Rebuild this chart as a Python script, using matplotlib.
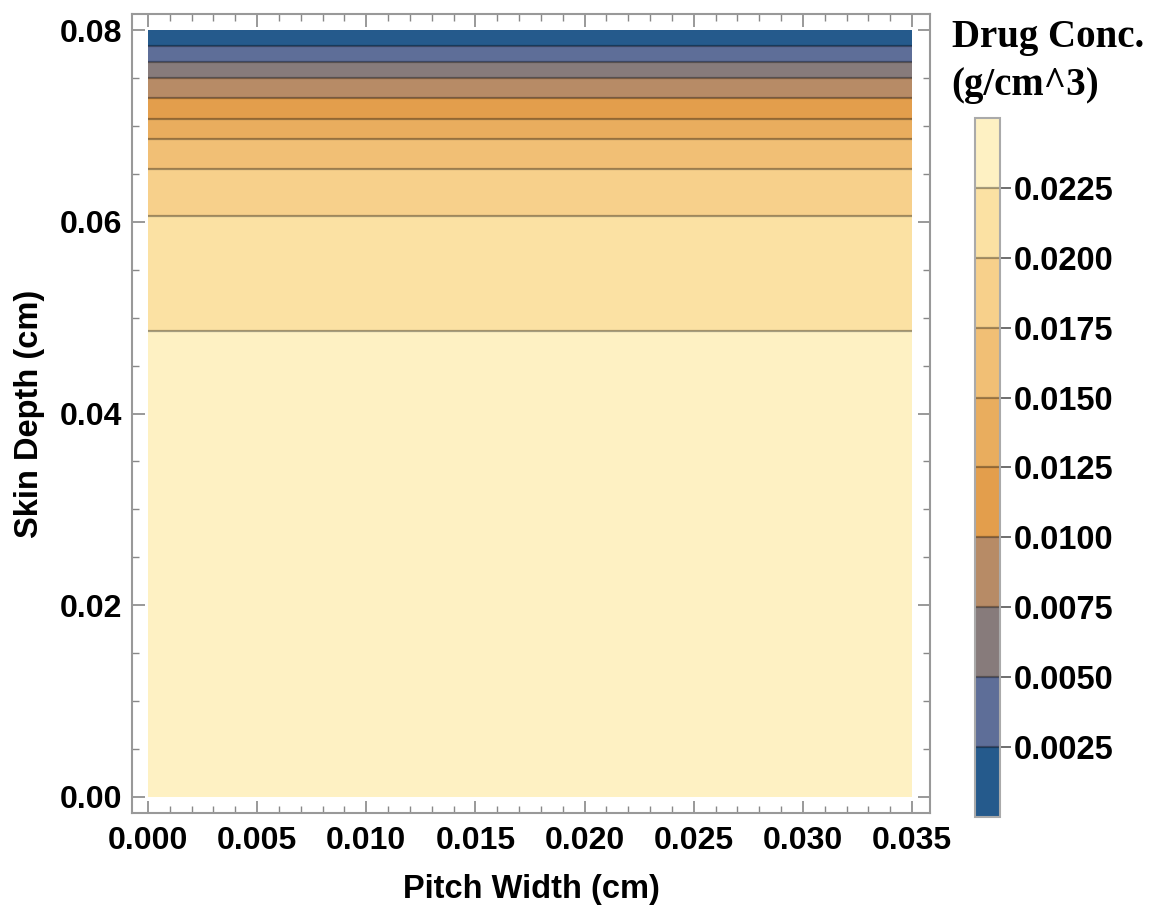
import numpy as np
import matplotlib.pyplot as plt
from matplotlib.colors import ListedColormap, BoundaryNorm
from matplotlib.ticker import MultipleLocator, FormatStrFormatter

# depth profile of drug concentration (same at every pitch position)
pitch_width = [0.0, 0.035]
skin_depth = [0.0, 0.0486, 0.0606, 0.0655, 0.0686, 0.0707, 0.0729, 0.0750, 0.0767, 0.0783, 0.0800]
drug_conc = [0.0249, 0.0225, 0.0200, 0.0175, 0.0150, 0.0125, 0.0100, 0.0075, 0.0050, 0.0025, 0.0]

levels = [0.0, 0.0025, 0.005, 0.0075, 0.01, 0.0125, 0.015, 0.0175, 0.02, 0.0225, 0.0249]
cbar_ticks = [0.0025, 0.005, 0.0075, 0.01, 0.0125, 0.015, 0.0175, 0.02, 0.0225]
band_colors = ['#255a8c', '#5e6e98', '#877b7b', '#b78b66', '#e39e4c',
               '#e9ad5e', '#f1bf75', '#f7d08b', '#fbe1a3', '#fef1c3']

plt.rcParams['font.family'] = ['Liberation Sans', 'DejaVu Sans']
plt.rcParams['font.weight'] = 'bold'

fig = plt.figure(figsize=(11.52, 9.09), dpi=100)
ax = fig.add_axes([0.1146, 0.1056, 0.6927, 0.879])
cax = fig.add_axes([0.8464, 0.1012, 0.0217, 0.769])

X, Y = np.meshgrid(pitch_width, skin_depth)
Z = np.tile(np.array(drug_conc)[:, None], (1, len(pitch_width)))

cmap = ListedColormap(band_colors)
norm = BoundaryNorm(levels, cmap.N)
cs = ax.contourf(X, Y, Z, levels=levels, cmap=cmap, norm=norm)
cl = ax.contour(X, Y, Z, levels=levels[1:-1], colors='#000000', alpha=0.35, linewidths=1.6)

ax.set_xlim(-0.00073, 0.03582)
ax.set_ylim(-0.00167, 0.08167)
ax.xaxis.set_major_locator(MultipleLocator(0.005))
ax.xaxis.set_minor_locator(MultipleLocator(0.001))
ax.yaxis.set_major_locator(MultipleLocator(0.02))
ax.yaxis.set_minor_locator(MultipleLocator(0.005))
ax.xaxis.set_major_formatter(FormatStrFormatter('%.3f'))
ax.yaxis.set_major_formatter(FormatStrFormatter('%.2f'))
ax.tick_params(which='both', direction='in', top=True, right=True, color='#888888',
               labelsize=23, pad=7)
ax.tick_params(axis='x', which='major', pad=9)
ax.tick_params(which='major', length=9, width=1.2)
ax.tick_params(which='minor', length=5, width=1.0)
for s in ax.spines.values():
    s.set_color('#999999')
    s.set_linewidth(1.5)

ax.set_xlabel('Pitch Width (cm)', fontsize=23.5, fontweight='bold', labelpad=13)
ax.set_ylabel('Skin Depth (cm)', fontsize=23.5, fontweight='bold', labelpad=11)

cbar = fig.colorbar(cs, cax=cax, ticks=cbar_ticks)
cbar.add_lines(cl)
cbar.ax.minorticks_off()
cbar.ax.yaxis.set_major_formatter(FormatStrFormatter('%.4f'))
cbar.ax.tick_params(direction='out', length=8, width=1.2, color='#555555', labelsize=23.5, pad=2)
cbar.outline.set_edgecolor('#aaaaaa')
cbar.outline.set_linewidth(1.5)

fig.text(0.826, 0.979, 'Drug Conc.\n(g/cm^3)', fontsize=28, fontweight='bold',
         family=['Liberation Serif', 'DejaVu Serif'], va='top', ha='left', linespacing=1.4)

plt.savefig('out.png', dpi=100)
